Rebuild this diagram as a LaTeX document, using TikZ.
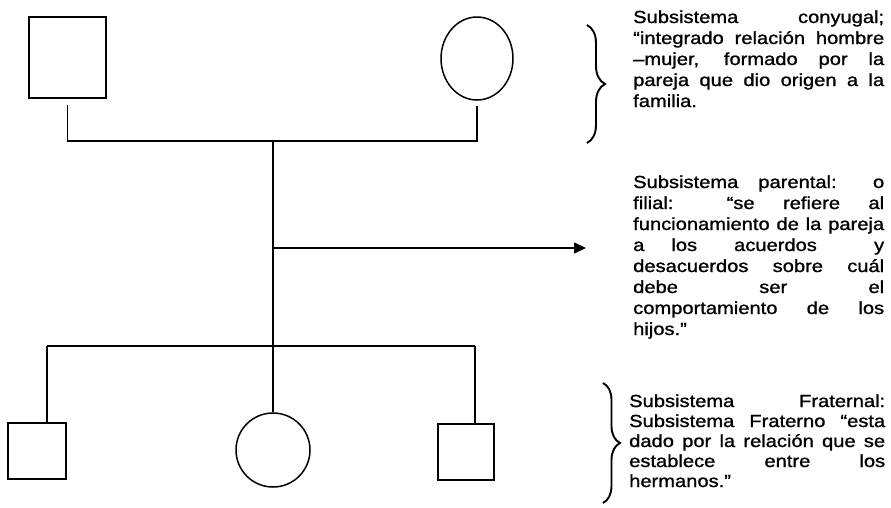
\documentclass[tikz,border=0pt]{standalone}
\usepackage{fontspec}
\setmainfont{Liberation Sans}[FakeStretch=1.15,FakeBold=1.2]
\usetikzlibrary{decorations.pathreplacing,arrows.meta,shapes.geometric,calc}
\newcommand{\jl}[1]{\makebox[\linewidth][s]{#1}}
\begin{document}
\begin{tikzpicture}[x=1pt,y=-1pt,
  conn/.style={line width=1.5pt},
  sq/.style={draw,line width=1.6pt,rectangle,inner sep=0pt},
  circ/.style={draw,line width=1.5pt,ellipse,inner sep=0pt},
  bracestyle/.style={line width=1.9pt,decorate,decoration={brace,amplitude=#1}},
  txt/.style={inner sep=0pt,anchor=base west}]
\useasboundingbox (0,0) rectangle (891,507);
% parents
\node[sq,minimum width=77pt,minimum height=81pt] (fa) at (67.5,57.5) {};
\node[circ,minimum width=72pt,minimum height=83pt] (mo) at (477,58.5) {};
% children
\node[sq,minimum width=58pt,minimum height=56pt] (c1) at (37,451) {};
\node[circ,minimum width=74pt,minimum height=74pt] (c2) at (273,450) {};
\node[sq,minimum width=56pt,minimum height=56pt] (c3) at (466,452) {};
% junctions
\coordinate (jl) at (67.5,141);
\coordinate (jr) at (477,141);
\coordinate (jm) at (273,141);
\coordinate (jb) at (273,346);
\coordinate (ja) at (273,248);
\coordinate (ae) at (586,248);
\coordinate (s1) at (47,346);
\coordinate (s3) at (475,346);
% connectors
\draw[conn] ($(fa.south)+(0,6)$) -- (jl) -- (jr) -- ($(mo.south)+(0,5)$);
\draw[conn] (jm) -- (jb);
\draw[conn,-{Triangle[length=12pt,width=11pt]}] (ja) -- (ae);
\draw[conn] (s1) -- (s3);
\draw[conn] (s1) -- (s1 |- c1.north);
\draw[conn] (jb) -- (c2.north);
\draw[conn] (s3) -- (s3 |- c3.north);
% braces
\coordinate (b1t) at (587,25);
\coordinate (b1b) at (587,143);
\coordinate (b3t) at (603,383);
\coordinate (b3b) at (603,503);
\draw[bracestyle=18pt] (b1t) -- (b1b);
\draw[bracestyle=17pt] (b3t) -- (b3b);
% texts
\node[txt] (t1) at (633,23) {\parbox[t]{251pt}{\fontsize{17.5pt}{21pt}\selectfont
\jl{Subsistema conyugal;}\\
\jl{“integrado relación hombre}\\
\jl{–mujer, formado por la}\\
\jl{pareja que dio origen a la}\\
familia.}};
\node[txt] (t2) at (633,188) {\parbox[t]{251pt}{\fontsize{17.5pt}{21pt}\selectfont
\jl{Subsistema parental: o}\\
\jl{filial: “se refiere al}\\
\jl{funcionamiento de la pareja}\\
\makebox[\linewidth][l]{a\hspace{27pt}los\hspace{37pt}acuerdos\hfill y}\\
\jl{desacuerdos sobre cuál}\\
\jl{debe ser el}\\
\jl{comportamiento de los}\\
hijos.”}};
\node[txt] (t3) at (629,407) {\parbox[t]{256pt}{\fontsize{17.5pt}{20pt}\selectfont
\jl{Subsistema Fraternal:}\\
\jl{Subsistema Fraterno “esta}\\
\jl{dado por la relación que se}\\
\jl{establece entre los}\\
hermanos.”}};
\end{tikzpicture}
\end{document}
